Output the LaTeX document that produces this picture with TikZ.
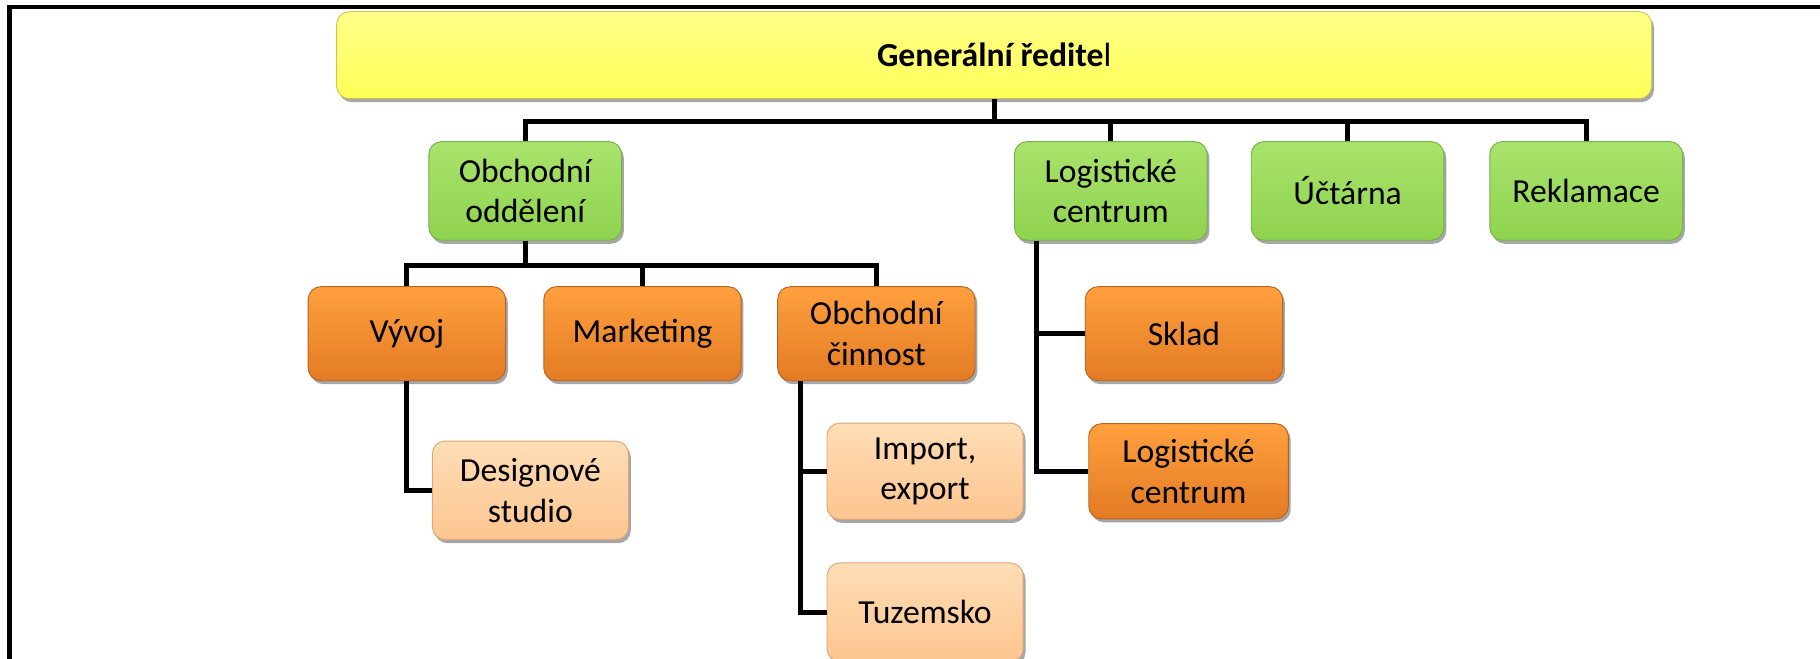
\documentclass[tikz,border=0pt]{standalone}
\usepackage{fontspec}
\setmainfont{Carlito}
\usepackage{tikz}
\usetikzlibrary{positioning,shadows}
\definecolor{headtop}{HTML}{FFFF88}
\definecolor{headbot}{HTML}{FFFF58}
\definecolor{headline}{HTML}{C8C85A}
\definecolor{depttop}{HTML}{A9E36C}
\definecolor{deptbot}{HTML}{8FD34F}
\definecolor{deptline}{HTML}{78B045}
\definecolor{unittop}{HTML}{FFA03E}
\definecolor{unitbot}{HTML}{E37B24}
\definecolor{unitline}{HTML}{B9621C}
\definecolor{subtop}{HTML}{FFDDB6}
\definecolor{subbot}{HTML}{FCC58F}
\definecolor{subline}{HTML}{DDA578}
\tikzset{
	org chart/.style={
		x=1pt, y=-1pt,
		wire/.style={draw=black, line width=4.2pt},
		frame/.style={draw=black, line width=4pt}
		},
	box/.style={rounded corners=11pt, line width=.8pt, align=center, inner sep=2pt,
		font=\fontsize{29}{35}\selectfont,
		drop shadow={shadow xshift=2pt, shadow yshift=-3pt, opacity=.35, fill=black}},
	head/.style={box, top color=headtop, bottom color=headbot, draw=headline,
		minimum width=1133, minimum height=75},
	dept/.style={box, top color=depttop, bottom color=deptbot, draw=deptline,
		minimum width=166, minimum height=85},
	unit/.style={box, top color=unittop, bottom color=unitbot, draw=unitline,
		minimum width=170, minimum height=81},
	sub unit/.style={box, top color=subtop, bottom color=subbot, draw=subline,
		minimum width=169, minimum height=83}
}

\begin{document}
\begin{tikzpicture}[org chart]
      \clip (0,0) rectangle (1568,567);
      \draw[frame] (8,580) |- (1580,6);
      % top level
      \node[head] (gr) at (856.5,47.5) {\textbf{Generální ředite}l};
      \node[dept] (obch) at (452.5,164.5) {Obchodní\\oddělení};
      \node[dept] (logc) at (957,164.5) {Logistické\\centrum};
      \node[dept] (ucto) at (1161,164.5) {Účtárna};
      \node[dept] (rekl) at (1366.5,164.5) {Reklamace};
      % second level
      \node[unit] (vyvoj) at (350.5,287.5) {Vývoj};
      \node[unit] (mark) at (553.5,287.5) {Marketing};
      \node[unit] (obcin) at (755,287.5) {Obchodní\\činnost};
      \node[unit] (sklad) at (1020,287.5) {Sklad};
      \node[unit, minimum width=172, minimum height=82] (logc2) at (1024,406) {Logistické\\centrum};
      \node[sub unit, minimum height=85] (design) at (457,422.5) {Designové\\studio};
      \node[sub unit] (impex) at (797,406) {Import,\\export};
      \node[sub unit, minimum height=85] (tuz) at (797,527.5) {Tuzemsko};
      % connectors
      \draw[wire] (gr.south) -- ++(0,19) coordinate (bus0);
      \draw[wire] (obch.north) |- (bus0) -| (rekl.north);
      \draw[wire] (bus0 -| logc.north) -- (logc.north);
      \draw[wire] (bus0 -| ucto.north) -- (ucto.north);
      \draw[wire] (obch.south) -- ++(0,21) coordinate (bus1);
      \draw[wire] (vyvoj.north) |- (bus1) -| (obcin.north);
      \draw[wire] (bus1 -| mark.north) -- (mark.north);
      \draw[wire] (vyvoj.south) |- (design.west);
      \draw[wire] ([xshift=20pt]obcin.south west) |- (impex.west);
      \draw[wire] ([xshift=20pt]obcin.south west) |- (tuz.west);
      \draw[wire] ([xshift=19pt]logc.south west) |- (sklad.west);
      \draw[wire] ([xshift=19pt]logc.south west) |- (logc2.west);
\end{tikzpicture}
\end{document}
